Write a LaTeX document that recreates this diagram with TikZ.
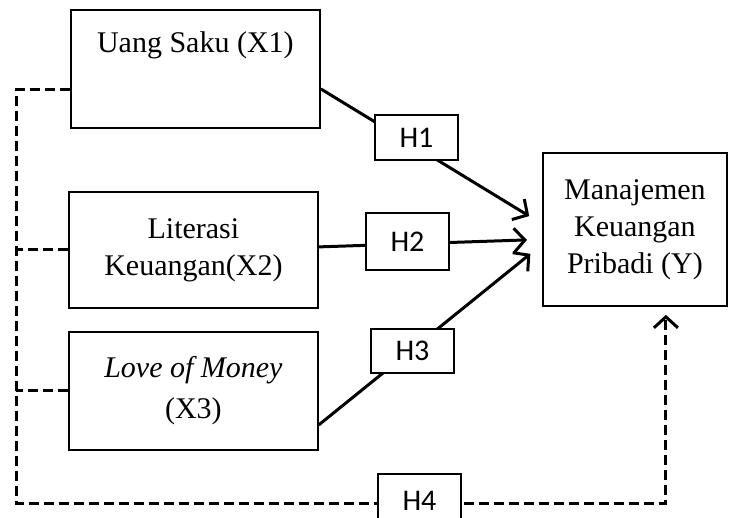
\documentclass[tikz,border=0pt]{standalone}
\usepackage{fontspec}
\setmainfont{Liberation Serif}
\newfontfamily\hfont{Carlito}
\usepackage{tikz}
\usetikzlibrary{arrows.meta,positioning,calc}
\tikzstyle{varblock} = [rectangle, draw, line width=1.8pt, anchor=north west, inner sep=0pt,
    align=center, minimum width=249pt, font=\fontsize{30}{37}\selectfont]
\tikzstyle{hblock} = [rectangle, draw, line width=1.8pt, fill=white, minimum width=83pt,
    minimum height=45pt, inner sep=0pt, font=\hfont\fontsize{30}{32}\selectfont]
\tikzstyle{arrow} = [-{Straight Barb[length=11pt,width=24pt]}, line width=3pt, shorten >=15pt]
\tikzstyle{dashline} = [line width=3pt, dash pattern=on 10pt off 5pt]

\begin{document}
\begin{tikzpicture}[x=1pt,y=-1pt]
\useasboundingbox (0,0) rectangle (733,518);
\node[varblock, text height=43pt, text depth=75pt] (x1) at (70,9) {Uang Saku (X1)};
\node[varblock, minimum height=116pt] (x2) at (68,191) {Literasi\\Keuangan(X2)};
\node[varblock, minimum height=118pt] (x3) at (68,331) {\textit{Love of Money}\\[4pt](X3)};
\node[varblock, minimum width=184pt, minimum height=153pt] (y) at (542,152) {Manajemen\\Keuangan\\Pribadi (Y)};
\coordinate (corner) at (16,503);

\draw[arrow] ([yshift=-20pt]x1.east) -- ([yshift=5.5pt]y.west);
\draw[arrow] ([yshift=3pt]x2.east) -- ([yshift=-10pt]y.west);
\draw[arrow] ([yshift=-34pt]x3.east) -- ([yshift=-15pt]y.west);

\draw[dashline] (x2.west) -- (x2.west -| corner);
\draw[dashline] (x3.west) -- (x3.west -| corner);
\draw[dashline, -{Straight Barb[length=11pt,width=24pt]}, shorten >=8pt]
    ([yshift=-21pt]x1.west) -| (corner) -| ([xshift=31pt]y.south);

\node[hblock, text depth=-3pt] (h1) at (416.5,137.5) {H1};
\node[hblock, text depth=-3pt, minimum height=57pt] (h2) at (407.5,241.5) {H2};
\node[hblock, text depth=-3pt, minimum height=44pt] (h3) at (412.5,351) {H3};
\node[hblock, text depth=-3pt, minimum height=54pt] (h4) at (419.5,501) {H4};
\end{tikzpicture}
\end{document}
